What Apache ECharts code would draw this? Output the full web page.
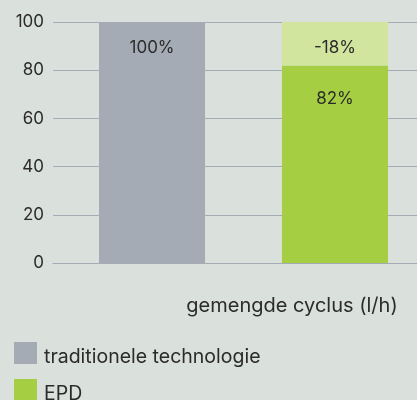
<!DOCTYPE html>
<html>
<head>
<meta charset="utf-8">
<script src="https://cdn.jsdelivr.net/npm/echarts@6/dist/echarts.min.js"></script>
<style>
  html, body { margin: 0; padding: 0; background: #dae0dc; }
  #chart { width: 417px; height: 400px; }
</style>
</head>
<body>
<div id="chart"></div>
<script>
var categories = ['gemengde cyclus (l/h)'];
var traditioneel = [100];
var epd = [82];
var besparing = [18];
var yTicks = [0, 20, 40, 60, 80, 100];

var textColor = '#2b2b2b';
var fontFamily = 'Inter, "Noto Sans", sans-serif';

var chart = echarts.init(document.getElementById('chart'));

var option = {
  backgroundColor: '#dae0dc',
  textStyle: { fontFamily: fontFamily, color: textColor },
  grid: { left: 53, top: 22, width: 381, height: 241, outerBoundsMode: 'none' },
  legend: {
    orient: 'vertical',
    left: 9,
    top: 337,
    height: 120,
    itemWidth: 23,
    itemHeight: 22,
    itemGap: 12,
    icon: 'rect',
    data: ['traditionele technologie', 'EPD'],
    formatter: '{t|{name}}',
    textStyle: {
      color: textColor,
      rich: {
        t: { fontSize: 19.5, color: textColor, fontFamily: fontFamily, padding: [8, 0, 0, 2] }
      }
    }
  },
  xAxis: {
    type: 'category',
    data: categories,
    axisTick: { show: false },
    axisLine: { lineStyle: { color: '#a5abb5' } },
    axisLabel: { fontSize: 20, color: textColor, margin: 33, padding: [0, 0, 0, 97] }
  },
  yAxis: {
    type: 'value',
    min: yTicks[0],
    max: yTicks[yTicks.length - 1],
    interval: 20,
    axisLabel: { fontSize: 17, color: textColor, margin: 9 },
    splitLine: { lineStyle: { color: '#a5abb5', width: 1 } }
  },
  series: [
    {
      name: 'traditionele technologie',
      type: 'bar',
      data: traditioneel,
      barWidth: 106,
      barGap: '72.6%',
      itemStyle: { color: '#a5abb5' },
      label: {
        show: true, position: 'insideTop', distance: 17,
        fontSize: 17, color: textColor,
        formatter: function(p) { return p.value + '%'; }
      }
    },
    {
      name: 'EPD',
      type: 'bar',
      stack: 'epd',
      data: epd,
      barWidth: 106,
      itemStyle: { color: '#a6ce42' },
      label: {
        show: true, position: 'insideTop', distance: 25,
        fontSize: 17, color: textColor,
        formatter: function(p) { return p.value + '%'; }
      }
    },
    {
      name: 'besparing',
      type: 'bar',
      stack: 'epd',
      data: besparing,
      barWidth: 106,
      itemStyle: { color: '#d2e59f' },
      label: {
        show: true, position: 'insideTop', distance: 17,
        fontSize: 17, color: textColor,
        formatter: function(p) { return '-' + p.value + '%'; }
      }
    }
  ]
};

chart.setOption(option);
</script>
</body>
</html>
